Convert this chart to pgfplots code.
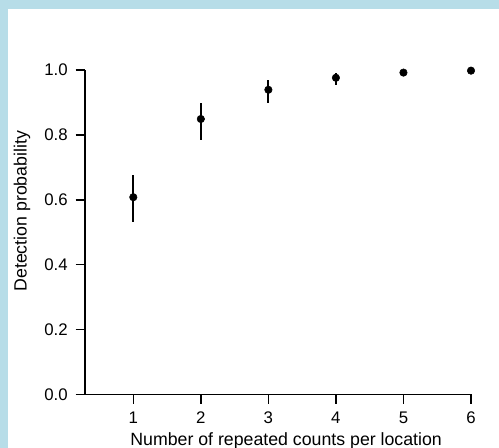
\documentclass[border=0pt]{standalone}
\usepackage{pgfplots}
\pgfplotsset{compat=1.18}
\usepackage{fontspec}
\setmainfont{Liberation Sans}
\definecolor{frameblue}{RGB}{183,221,232}
\begin{document}
\begin{tikzpicture}
\fill[frameblue] (0,0) rectangle (374.25pt,336pt);
\fill[white] (6pt,0) rectangle (374.25pt,329.5pt);
\begin{axis}[
  at={(63.75pt,40.125pt)}, anchor=south west,
  scale only axis, width=289.5pt, height=243.375pt,
  xmin=0.285, xmax=6, ymin=0, ymax=1,
  axis lines=left, axis line style={-, line width=1.1pt},
  clip=false,
  tick align=outside, major tick length=7pt,
  every tick/.style={black, line width=1.1pt},
  xtick={1,2,3,4,5,6}, xticklabels={1,2,3,4,5,6},
  ytick={0,0.2,0.4,0.6,0.8,1}, yticklabels={0.0,0.2,0.4,0.6,0.8,1.0},
  tick label style={font=\fontsize{12.6}{14}\selectfont},
  xticklabel style={yshift=-2.5pt},
  yticklabel style={xshift=-2.5pt},
  xlabel={Number of repeated counts per location},
  ylabel={Detection probability},
  label style={font=\fontsize{13.3}{15}\selectfont},
  xlabel style={at={(axis description cs:0.521,-0.158)}, anchor=base},
  ylabel style={at={(axis description cs:-0.163,0.565)}, anchor=center, rotate=0},
]
\addplot[black, only marks, mark=*, mark size=2.8pt,
  error bars/.cd, y dir=both, y explicit, error mark=none,
  error bar style={line width=1.5pt, black}]
  table[x=x, y=y, y error plus=ep, y error minus=em] {
x y ep em
1 0.608 0.068 0.075
2 0.849 0.049 0.065
3 0.939 0.030 0.040
4 0.976 0.016 0.023
5 0.992 0.004 0.006
6 0.998 0.001 0.002
};
\end{axis}
\pgfresetboundingbox
\useasboundingbox (0,0) rectangle (374.25pt,336pt);
\end{tikzpicture}
\end{document}
